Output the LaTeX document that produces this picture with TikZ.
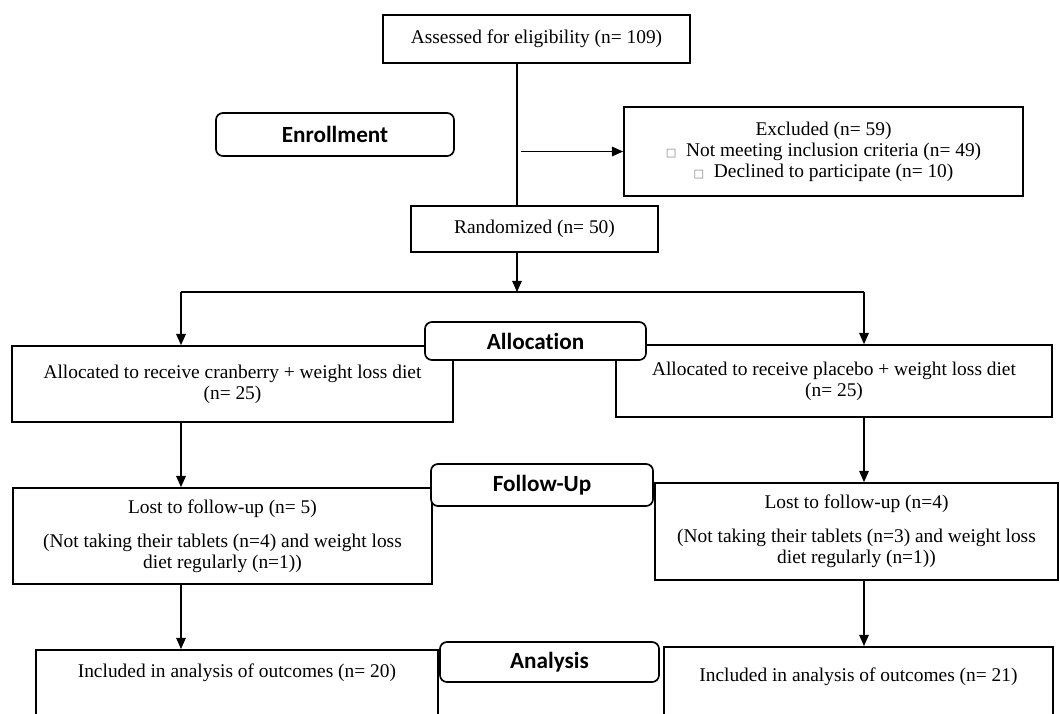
\documentclass[tikz,border=0pt]{standalone}
\usepackage{fontspec}
\setmainfont{Liberation Serif}
\newfontfamily\phasefont[Ligatures=NoCommon]{Carlito}
\newfontfamily\symfont{DejaVu Sans}
\usetikzlibrary{positioning, arrows.meta, calc}
\newcommand{\sqbox}{{\symfont\fontsize{8}{8}\selectfont\textcolor{gray}{□}}}

\begin{document}
\begin{tikzpicture}[
x=0.025cm, y=-0.025cm,
every node/.style={align=center, font=\fontsize{13.8}{15}\selectfont},
box/.style={draw, line width=1.2pt, inner sep=2pt},
phase/.style={draw, fill=white, rounded corners=5pt, line width=1.2pt, font=\phasefont\bfseries\fontsize{16.5}{18}\selectfont},
line/.style={draw, line width=0.9pt},
arrow/.style={line, -{Triangle[length=2.8mm, width=2.4mm]}}
]
\useasboundingbox (0,0) rectangle (1060,713);

% ====== Enrollment ======
\node[box, minimum width=7.675cm, minimum height=1.2cm] (assess) at (536.5,39) {Assessed for eligibility (n= 109)};
\node[box, minimum width=9.975cm, minimum height=2.225cm] (excl) at (823.5,151.5) {Excluded (n= 59)\\ \sqbox\ \ Not meeting inclusion criteria (n= 49)\\ \sqbox\ \ Declined to participate (n= 10)};
\node[box, minimum width=6.175cm, minimum height=1.15cm] (rand) at (534.5,229) {Randomized (n= 50)};

% ====== Allocation ======
\node[box, minimum width=11.025cm, minimum height=1.9cm] (allocA) at (232.5,384) {Allocated to receive cranberry + weight loss diet\\ (n= 25)};
\node[box, minimum width=10.9cm, minimum height=1.8cm] (allocB) at (834,381) {Allocated to receive placebo + weight loss diet\\ (n= 25)};

% ====== Follow-Up ======
\node[box, minimum width=10.475cm, minimum height=2.4cm] (lostA) at (222.5,536) {Lost to follow-up (n= 5)\\[9pt] (Not taking their tablets (n=4) and weight loss\\ diet regularly (n=1))};
\node[box, minimum width=10.075cm, minimum height=2.425cm] (lostB) at (856.5,531.5) {Lost to follow-up (n=4)\\[9pt] (Not taking their tablets (n=3) and weight loss\\ diet regularly (n=1))};

% ====== Analysis ======
\node[box, anchor=north west, minimum width=10.05cm, text height=0.7cm, text depth=2cm, inner ysep=0pt] (inclA) at (35,649) {Included in analysis of outcomes (n= 20)};
\node[box, anchor=north west, minimum width=9.725cm, text height=0.875cm, text depth=2cm, inner ysep=0pt] (inclB) at (663,646) {Included in analysis of outcomes (n= 21)};

% ====== Connections ======
\coordinate (split) at (517,292);
\coordinate (leftarm) at (181,292);
\coordinate (rightarm) at (864,292);
\draw[line] (assess.south -| split) -- (rand.north -| split);
\draw[arrow] ($(split |- excl.west)+(4,0)$) -- (excl.west);
\draw[arrow] (rand.south -| split) -- (split);
\draw[line] (leftarm) -- (rightarm);
\draw[arrow] (leftarm) -- (leftarm |- allocA.north);
\draw[arrow] (rightarm) -- (rightarm |- allocB.north);
\draw[arrow] (allocA.south -| leftarm) -- (lostA.north -| leftarm);
\draw[arrow] (allocB.south -| rightarm) -- (lostB.north -| rightarm);
\draw[arrow] (lostA.south -| leftarm) -- (inclA.north -| leftarm);
\draw[arrow] (lostB.south -| rightarm) -- (inclB.north -| rightarm);

% ====== Phase Labels ======
\node[phase, minimum width=5.95cm, minimum height=1.075cm] (enrol) at (335,134.5) {Enrollment};
\node[phase, minimum width=5.525cm, minimum height=0.95cm] (allocation) at (535.5,341) {Allocation};
\node[phase, minimum width=5.55cm, minimum height=1.05cm] (followup) at (542,485) {Follow-Up};
\node[phase, minimum width=5.475cm, minimum height=1cm] (analysis) at (549.5,662) {Analysis};

\end{tikzpicture}
\end{document}
